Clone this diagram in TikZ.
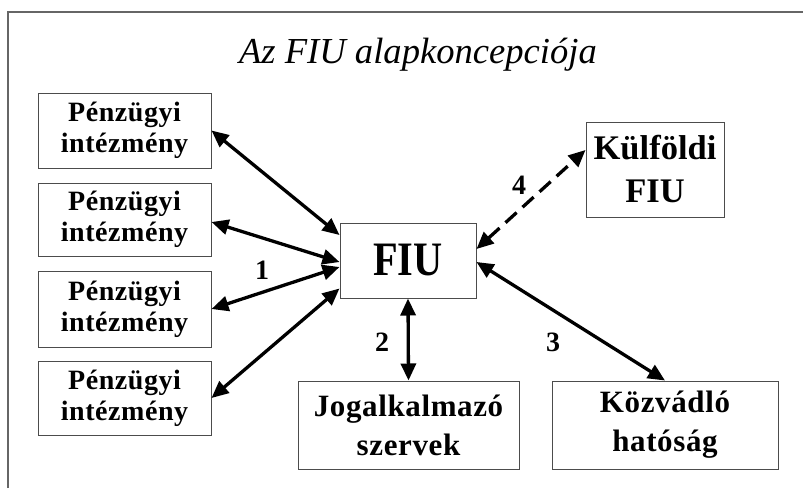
\documentclass[tikz,border=0pt]{standalone}
\usepackage{fontspec}
\setmainfont{Liberation Serif}
\newfontfamily\narrowserif[FakeStretch=0.84]{Liberation Serif}
\newfontfamily\spacedserif[LetterSpace=2]{Liberation Serif}
\usetikzlibrary{arrows.meta}

\begin{document}
\begin{tikzpicture}[x=1pt,y=-1pt,
  box/.style={draw=black!70, line width=1pt, inner sep=0pt, align=center,
    font=\spacedserif\bfseries\fontsize{28}{31}\selectfont},
  tip/.tip={Triangle[length=17pt,width=15pt]},
  link/.style={line width=3.3pt, tip-tip},
  dlink/.style={link, dash pattern=on 15pt off 8pt},
  num/.style={font=\bfseries\fontsize{28}{30}\selectfont, inner sep=0pt}]
\useasboundingbox (0,0) rectangle (803,488);

% frame
\draw[black!60, line width=1.5pt] (8,488) -- (8,12) -- (803,12);

% title
\node[anchor=base, inner sep=0pt, font=\itshape\fontsize{36.6}{40}\selectfont]
  (title) at (418,63) {Az FIU alapkoncepciója};

% financial institutions
\node[box, minimum width=173pt, minimum height=75pt] (p1) at (124.5,130.5) {Pénzügyi\\intézmény};
\node[box, minimum width=173pt, minimum height=73pt] (p2) at (124.5,219.5) {Pénzügyi\\intézmény};
\node[box, minimum width=173pt, minimum height=76pt] (p3) at (124.5,309) {Pénzügyi\\intézmény};
\node[box, minimum width=173pt, minimum height=74pt] (p4) at (124.5,398) {Pénzügyi\\intézmény};

% central unit
\node[box, minimum width=136pt, minimum height=75pt,
  font=\narrowserif\bfseries\fontsize{48}{50}\selectfont] (fiu) at (408,260.5) {FIU};

% partners
\node[box, minimum width=138pt, minimum height=95pt,
  font=\bfseries\fontsize{34.5}{43}\selectfont] (kul) at (655,169.5) {Külföldi\\FIU};
\node[box, minimum width=221pt, minimum height=88pt,
  font=\spacedserif\bfseries\fontsize{31}{39}\selectfont] (jog) at (408.5,425) {Jogalkalmazó\\szervek};
\node[box, minimum width=226pt, minimum height=88pt,
  font=\spacedserif\bfseries\fontsize{31}{39}\selectfont] (koz) at (665,425) {Közvádló\\hatóság};

% connectors
\draw[link] (p1.east) -- ([yshift=25.5pt]fiu.west);
\draw[link] ([yshift=-2.5pt]p2.east) -- ([yshift=-1.5pt]fiu.west);
\draw[link] (p3.east) -- ([yshift=-6.5pt]fiu.west);
\draw[link] (p4.east) -- ([yshift=-28pt]fiu.west);
\draw[link] (fiu.south) -- (jog.north);
\draw[link] ([yshift=-1.5pt]fiu.east) -- (koz.north);
\draw[dlink] ([yshift=11.5pt]fiu.east) -- ([yshift=19.5pt]kul.west);

% labels
\node[num] (n1) at (262,270) {1};
\node[num] (n2) at (382,342) {2};
\node[num] (n3) at (553,342) {3};
\node[num] (n4) at (519,185) {4};
\end{tikzpicture}
\end{document}
